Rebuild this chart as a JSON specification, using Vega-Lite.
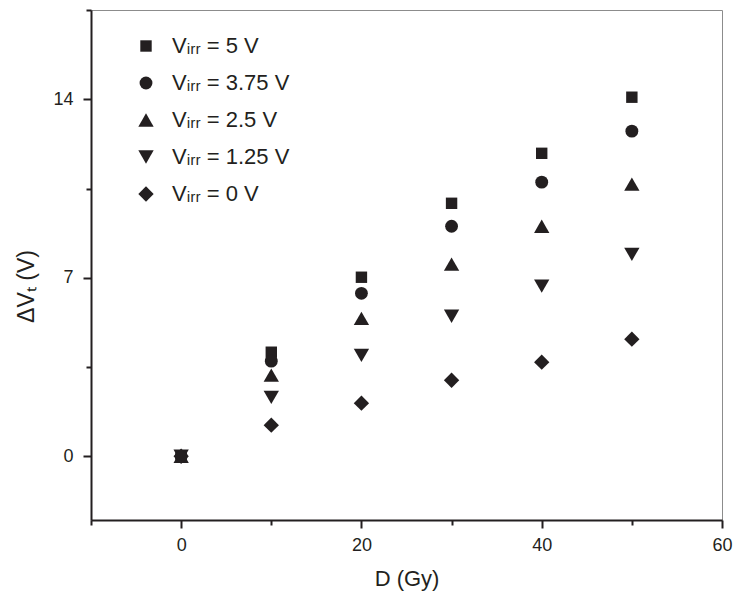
{
  "$schema": "https://vega.github.io/schema/vega-lite/v6.json",
  "width": 631,
  "height": 510,
  "autosize": {"type": "none"},
  "padding": {"left": 91, "top": 10, "right": 14, "bottom": 82},
  "background": "white",
  "config": {
    "view": {"stroke": "#8c8c8c", "strokeWidth": 1},
    "font": "Liberation Sans",
    "axis": {"grid": false, "labelFont": "Liberation Sans", "titleFont": "Liberation Sans"}
  },
  "data": {
    "values": [
      {"D": 0, "dV": 0, "series": "Vᵢᵣᵣ = 5 V"},
      {"D": 10, "dV": 4.08, "series": "Vᵢᵣᵣ = 5 V"},
      {"D": 20, "dV": 7.02, "series": "Vᵢᵣᵣ = 5 V"},
      {"D": 30, "dV": 9.92, "series": "Vᵢᵣᵣ = 5 V"},
      {"D": 40, "dV": 11.88, "series": "Vᵢᵣᵣ = 5 V"},
      {"D": 50, "dV": 14.08, "series": "Vᵢᵣᵣ = 5 V"},
      {"D": 0, "dV": 0, "series": "Vᵢᵣᵣ = 3.75 V"},
      {"D": 10, "dV": 3.73, "series": "Vᵢᵣᵣ = 3.75 V"},
      {"D": 20, "dV": 6.39, "series": "Vᵢᵣᵣ = 3.75 V"},
      {"D": 30, "dV": 9.02, "series": "Vᵢᵣᵣ = 3.75 V"},
      {"D": 40, "dV": 10.75, "series": "Vᵢᵣᵣ = 3.75 V"},
      {"D": 50, "dV": 12.75, "series": "Vᵢᵣᵣ = 3.75 V"},
      {"D": 0, "dV": 0, "series": "Vᵢᵣᵣ = 2.5 V"},
      {"D": 10, "dV": 3.18, "series": "Vᵢᵣᵣ = 2.5 V"},
      {"D": 20, "dV": 5.41, "series": "Vᵢᵣᵣ = 2.5 V"},
      {"D": 30, "dV": 7.53, "series": "Vᵢᵣᵣ = 2.5 V"},
      {"D": 40, "dV": 9.02, "series": "Vᵢᵣᵣ = 2.5 V"},
      {"D": 50, "dV": 10.67, "series": "Vᵢᵣᵣ = 2.5 V"},
      {"D": 0, "dV": 0, "series": "Vᵢᵣᵣ = 1.25 V"},
      {"D": 10, "dV": 2.31, "series": "Vᵢᵣᵣ = 1.25 V"},
      {"D": 20, "dV": 3.96, "series": "Vᵢᵣᵣ = 1.25 V"},
      {"D": 30, "dV": 5.49, "series": "Vᵢᵣᵣ = 1.25 V"},
      {"D": 40, "dV": 6.67, "series": "Vᵢᵣᵣ = 1.25 V"},
      {"D": 50, "dV": 7.92, "series": "Vᵢᵣᵣ = 1.25 V"},
      {"D": 0, "dV": 0, "series": "Vᵢᵣᵣ = 0 V"},
      {"D": 10, "dV": 1.22, "series": "Vᵢᵣᵣ = 0 V"},
      {"D": 20, "dV": 2.08, "series": "Vᵢᵣᵣ = 0 V"},
      {"D": 30, "dV": 2.98, "series": "Vᵢᵣᵣ = 0 V"},
      {"D": 40, "dV": 3.69, "series": "Vᵢᵣᵣ = 0 V"},
      {"D": 50, "dV": 4.59, "series": "Vᵢᵣᵣ = 0 V"}
    ]
  },
  "mark": {"type": "point", "filled": true, "opacity": 1, "strokeWidth": 0},
  "encoding": {
    "x": {
      "field": "D",
      "type": "quantitative",
      "scale": {"domain": [-10, 60], "nice": false, "zero": false},
      "axis": {
        "title": "D (Gy)",
        "values": [-10, 0, 10, 20, 30, 40, 50, 60],
        "labelExpr": "datum.value % 20 === 0 ? datum.label : ''",
        "labelFlush": false,
        "labelOverlap": false,
        "domainColor": "#231f20",
        "domainWidth": 2,
        "tickColor": "#231f20",
        "tickWidth": 2,
        "tickSize": {"condition": {"test": "datum.value % 20 === 0", "value": 8}, "value": 5},
        "labelFontSize": 18,
        "labelColor": "#231f20",
        "labelPadding": 8,
        "titleFontSize": 22,
        "titleFontWeight": "normal",
        "titleColor": "#231f20",
        "titlePadding": 14
      }
    },
    "y": {
      "field": "dV",
      "type": "quantitative",
      "scale": {"domain": [-2.5, 17.5], "nice": false, "zero": false},
      "axis": {
        "title": "ΔVₜ (V)",
        "values": [0, 3.5, 7, 10.5, 14, 17.5],
        "labelExpr": "datum.value % 7 === 0 ? datum.label : ''",
        "labelOverlap": false,
        "labelFlush": false,
        "domainColor": "#231f20",
        "domainWidth": 2,
        "tickColor": "#231f20",
        "tickWidth": 2,
        "tickSize": {"condition": {"test": "datum.value % 7 === 0", "value": 8}, "value": 5},
        "labelFontSize": 18,
        "labelColor": "#231f20",
        "labelPadding": 10,
        "titleFontSize": 23,
        "titleFontWeight": "normal",
        "titleColor": "#231f20",
        "titlePadding": 14,
        "titleY": 276
      }
    },
    "shape": {
      "field": "series",
      "type": "nominal",
      "scale": {
        "domain": ["Vᵢᵣᵣ = 5 V", "Vᵢᵣᵣ = 3.75 V", "Vᵢᵣᵣ = 2.5 V", "Vᵢᵣᵣ = 1.25 V", "Vᵢᵣᵣ = 0 V"],
        "range": ["square", "circle", "triangle-up", "triangle-down", "diamond"]
      },
      "legend": {
        "orient": "none",
        "legendX": 44,
        "legendY": 25,
        "title": null,
        "labelFontSize": 22,
        "labelFont": "Liberation Sans",
        "labelColor": "#231f20",
        "labelLimit": 300,
        "symbolFillColor": "#231f20",
        "symbolStrokeWidth": 0,
        "rowPadding": 15,
        "labelOffset": 15,
        "padding": 0
      }
    },
    "size": {
      "field": "series",
      "type": "nominal",
      "scale": {
        "type": "ordinal",
        "domain": ["Vᵢᵣᵣ = 5 V", "Vᵢᵣᵣ = 3.75 V", "Vᵢᵣᵣ = 2.5 V", "Vᵢᵣᵣ = 1.25 V", "Vᵢᵣᵣ = 0 V"],
        "range": [130, 165, 235, 235, 235]
      },
      "legend": {
        "orient": "none",
        "legendX": 44,
        "legendY": 25,
        "title": null,
        "labelFontSize": 22,
        "labelFont": "Liberation Sans",
        "labelColor": "#231f20",
        "labelLimit": 300,
        "symbolFillColor": "#231f20",
        "symbolStrokeWidth": 0,
        "rowPadding": 15,
        "labelOffset": 15,
        "padding": 0
      }
    },
    "color": {"value": "#231f20"}
  }
}
